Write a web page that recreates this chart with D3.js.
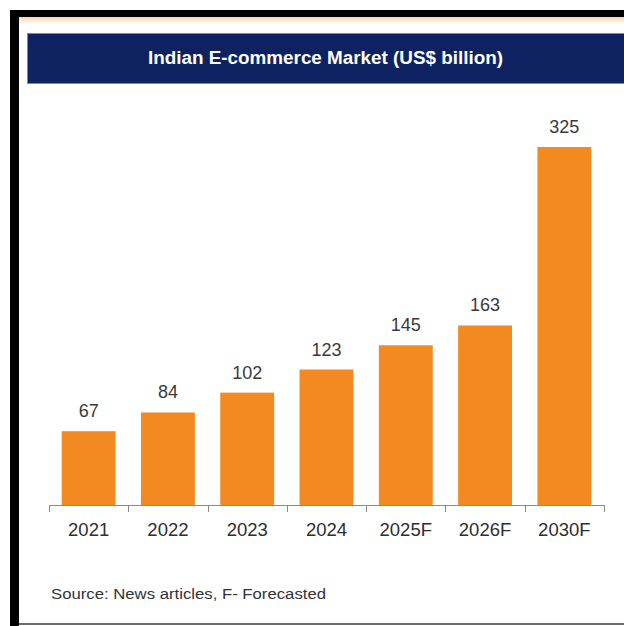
<!DOCTYPE html>
<html>
<head>
<meta charset="utf-8">
<script src="https://cdn.jsdelivr.net/npm/d3@7"></script>
<style>
  html, body { margin: 0; padding: 0; background: #fff; }
  svg { display: block; }
</style>
</head>
<body>
<svg id="chart" width="624" height="626"></svg>
<script>
// Market size by year (US$ billion); "F" marks forecasts
const years = ["2021", "2022", "2023", "2024", "2025F", "2026F", "2030F"];
const values = [67, 84, 102, 123, 145, 163, 325];
const title = "Indian E-commerce Market (US$ billion)";
const source = "Source: News articles, F- Forecasted";

const W = 624, H = 626;
const svg = d3.select("#chart");
const font = "'Liberation Sans', Arial, sans-serif";

// Frame: black top/left edges, grey bottom rule, soft peach strip under the top edge
const defs = svg.append("defs");
const grad = defs.append("linearGradient").attr("id", "peach")
  .attr("x1", 0).attr("y1", 0).attr("x2", 0).attr("y2", 1);
grad.append("stop").attr("offset", 0).attr("stop-color", "#f9d3ab");
grad.append("stop").attr("offset", 1).attr("stop-color", "#ffffff");
svg.append("rect").attr("x", 18).attr("y", 17).attr("width", W - 18).attr("height", 7)
  .attr("fill", "url(#peach)");
svg.append("rect").attr("x", 10).attr("y", 10).attr("width", W - 10).attr("height", 7).attr("fill", "#000");
svg.append("rect").attr("x", 10).attr("y", 10).attr("width", 9).attr("height", H - 10).attr("fill", "#000");
svg.append("rect").attr("x", 19).attr("y", 623).attr("width", W - 19).attr("height", 2).attr("fill", "#6a6a6a");

// Title banner
svg.append("rect").attr("x", 27.5).attr("y", 33.5).attr("width", W).attr("height", 50)
  .attr("fill", "#0e2262").attr("stroke", "#7d88a8").attr("stroke-width", 1);
svg.append("text").attr("x", 148).attr("y", 64)
  .attr("fill", "#fff")
  .attr("font-family", font).attr("font-weight", "bold").attr("font-size", 17.5)
  .attr("textLength", 355).attr("lengthAdjust", "spacingAndGlyphs")
  .text(title);

// Scales
const x = d3.scaleBand().domain(years).range([49, 604]).paddingInner(0.32).paddingOuter(0.16);
const y = d3.scaleLinear().domain([0, 325]).range([505, 147]);

// Bars
svg.append("g").selectAll("rect").data(values).join("rect")
  .attr("x", (d, i) => x(years[i]))
  .attr("y", d => y(d))
  .attr("width", x.bandwidth())
  .attr("height", d => y(0) - y(d))
  .attr("fill", "#f38a21");

// Value labels
svg.append("g").selectAll("text").data(values).join("text")
  .attr("x", (d, i) => x(years[i]) + x.bandwidth() / 2)
  .attr("y", d => y(d) - 14)
  .attr("text-anchor", "middle")
  .attr("fill", "#3a3a3a")
  .attr("font-family", font).attr("font-size", 18)
  .text(d => d);

// Category axis with ticks at band boundaries
const axisG = svg.append("g");
axisG.append("line")
  .attr("x1", 49).attr("x2", 604).attr("y1", y(0) + 0.5).attr("y2", y(0) + 0.5)
  .attr("stroke", "#8c8c8c").attr("stroke-width", 1);
const bounds = d3.range(years.length + 1).map(i => 49 + i * x.step());
axisG.selectAll("line.tick").data(bounds).join("line").attr("class", "tick")
  .attr("x1", d => Math.round(d) + 0.5).attr("x2", d => Math.round(d) + 0.5)
  .attr("y1", y(0)).attr("y2", y(0) + 7)
  .attr("stroke", "#8c8c8c").attr("stroke-width", 1);
axisG.selectAll("text").data(years).join("text")
  .attr("x", d => x(d) + x.bandwidth() / 2)
  .attr("y", 536)
  .attr("text-anchor", "middle")
  .attr("fill", "#2e2e2e")
  .attr("font-family", font).attr("font-size", 18.5)
  .text(d => d);

// Source note
svg.append("text").attr("x", 51).attr("y", 599)
  .attr("fill", "#333")
  .attr("font-family", font).attr("font-size", 15.5)
  .attr("textLength", 275).attr("lengthAdjust", "spacingAndGlyphs")
  .text(source);
</script>
</body>
</html>
